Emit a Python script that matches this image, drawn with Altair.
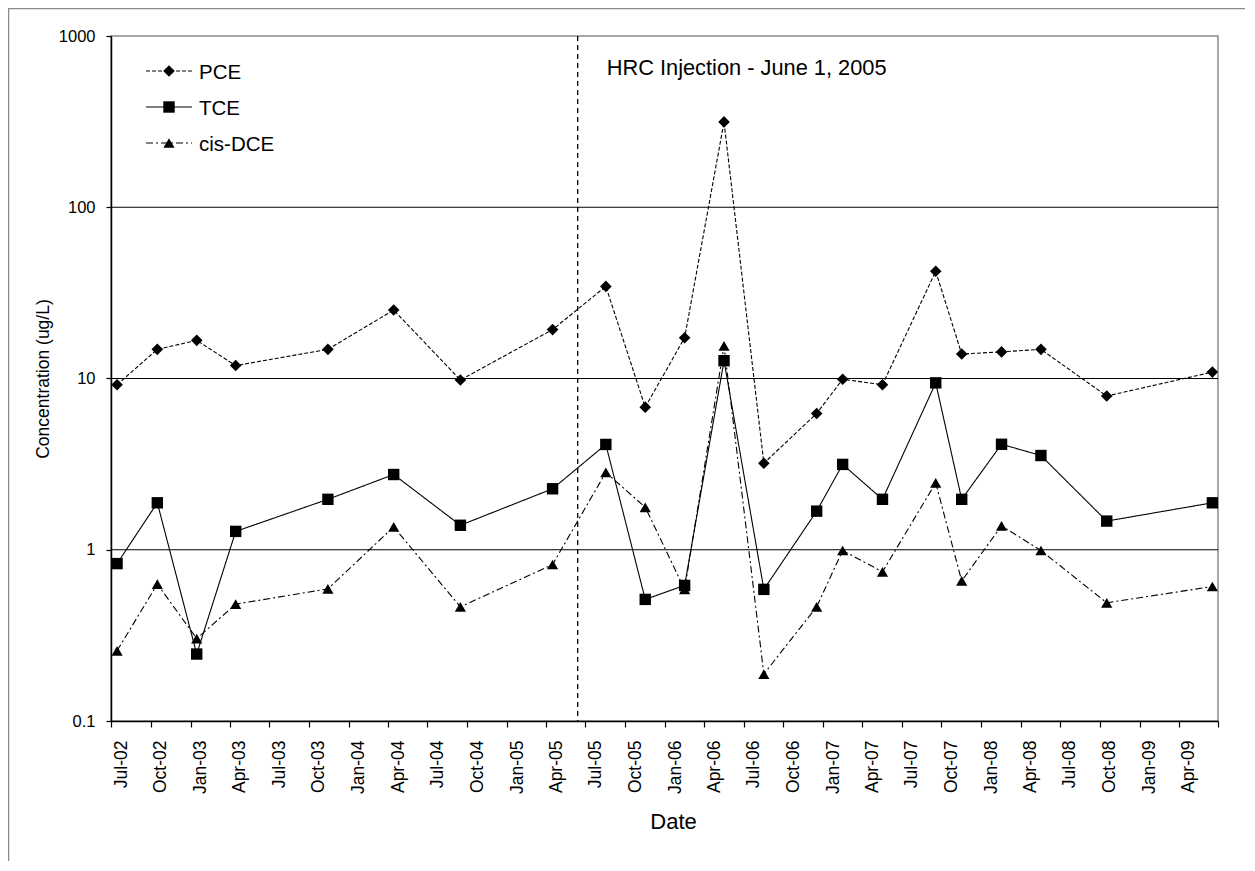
import altair as alt
import pandas as pd

# ---------------- data ----------------
series_names = ["PCE", "TCE", "cis-DCE"]
sample_dates = [
    "2002-07-15", "2002-10-16", "2003-01-15", "2003-04-15", "2003-11-14",
    "2004-04-14", "2004-09-15", "2005-04-16", "2005-08-17", "2005-11-16",
    "2006-02-15", "2006-05-17", "2006-08-17", "2006-12-17", "2007-02-15",
    "2007-05-18", "2007-09-18", "2007-11-17", "2008-02-17", "2008-05-18",
    "2008-10-17", "2009-06-18",
]
pce = [9.2, 14.8, 16.7, 11.9, 14.8, 25.1, 9.8, 19.3, 34.5, 6.8, 17.3,
       315, 3.2, 6.25, 9.9, 9.2, 42.3, 13.9, 14.3, 14.8, 7.9, 10.9]
tce = [0.83, 1.88, 0.246, 1.28, 1.97, 2.75, 1.39, 2.27, 4.12, 0.513, 0.619,
       12.7, 0.587, 1.68, 3.15, 1.97, 9.43, 1.97, 4.13, 3.55, 1.47, 1.88]
cis_dce = [0.257, 0.63, 0.303, 0.481, 0.591, 1.36, 0.464, 0.82, 2.83, 1.77, 0.587,
           15.5, 0.188, 0.464, 0.99, 0.743, 2.46, 0.658, 1.38, 0.99, 0.49, 0.61]

tick_years = [2002, 2002, 2003, 2003, 2003, 2003, 2004, 2004, 2004, 2004,
              2005, 2005, 2005, 2005, 2006, 2006, 2006, 2006, 2007, 2007,
              2007, 2007, 2008, 2008, 2008, 2008, 2009, 2009, 2009]
tick_months = [7, 10, 1, 4, 7, 10, 1, 4, 7, 10,
               1, 4, 7, 10, 1, 4, 7, 10, 1, 4,
               7, 10, 1, 4, 7, 10, 1, 4, 7]
y_ticks = [0.1, 1, 10, 100, 1000]
grid_values = [1, 10, 100]
injection_date = ["2005-06-13"]
injection_label = ["HRC Injection - June 1, 2005"]

rows = []
for name, vals in zip(series_names, [pce, tce, cis_dce]):
    for d, v in zip(sample_dates, vals):
        rows.append({"date": d, "value": v, "series": name})
df = pd.DataFrame(rows)

FONT = "Liberation Sans"

dash_scale = alt.Scale(domain=series_names, range=[[4, 2], [1, 0], [7, 3, 2, 3]])
shape_scale = alt.Scale(domain=series_names, range=["diamond", "square", "triangle-up"])
size_scale = alt.Scale(domain=series_names, range=[135, 125, 165])

x_scale = alt.Scale(
    type="utc",
    domain=[alt.DateTime(year=2002, month=7, date=1, utc=True),
            alt.DateTime(year=2009, month=7, date=1, utc=True)],
)
y_scale = alt.Scale(type="log", domain=[0.1, 1000], nice=False)

x_axis = alt.Axis(
    values=[alt.DateTime(year=y, month=m, date=1, utc=True) for y, m in zip(tick_years, tick_months)],
    labelExpr="datum.value >= utc(2009, 5, 1) ? '' : utcFormat(datum.value, '%b-%y')",
    title="Date", titleFont=FONT, titleFontSize=22, titleFontWeight="normal",
    titleColor="black", titleX=562, titleY=100, titleBaseline="middle",
    labelAngle=-90, labelAlign="right", labelBaseline="middle",
    labelFont=FONT, labelFontSize=17.5, labelColor="black",
    labelPadding=13, labelOffset=10, labelOverlap=False, labelFlush=False,
    labelBound=False,
    tickSize=6, tickColor="black", tickWidth=1.2,
    domainColor="black", domainWidth=1.5, grid=False,
)
y_axis = alt.Axis(
    values=y_ticks, format="~g",
    title="Concentration (ug/L)", titleFont=FONT, titleFontSize=17.5,
    titleFontWeight="normal", titleColor="black",
    titleX=-68, titleY=342.5, titleBaseline="middle", titleAngle=270,
    labelFont=FONT, labelFontSize=16.5, labelColor="black",
    labelPadding=11, labelFlush=False, labelOverlap=False,
    tickSize=5, tickColor="black", tickWidth=1.2,
    domainColor="black", domainWidth=1.5, grid=False,
)

X = alt.X("date:T", scale=x_scale, axis=x_axis)
Y = alt.Y("value:Q", scale=y_scale, axis=y_axis)

grid = alt.Chart(pd.DataFrame({"value": grid_values})).mark_rule(
    color="black", strokeWidth=1
).encode(y=Y)

inj = alt.Chart(pd.DataFrame({"date": injection_date})).mark_rule(
    color="black", strokeWidth=1.3, strokeDash=[5, 4]
).encode(x=X)

lines = alt.Chart(df).mark_line(color="black", strokeWidth=1.1).encode(
    x=X, y=Y,
    strokeDash=alt.StrokeDash("series:N", scale=dash_scale, legend=None),
    detail="series:N",
)

points = alt.Chart(df).mark_point(filled=True, color="black", opacity=1).encode(
    x=X, y=Y,
    shape=alt.Shape("series:N", scale=shape_scale, legend=None),
    size=alt.Size("series:N", scale=size_scale, legend=None),
)

ann = alt.Chart(pd.DataFrame({"date": injection_date, "label": injection_label})).mark_text(
    align="left", baseline="middle", dx=29, fontSize=21.8, font=FONT, color="black"
).encode(x=X, y=alt.value(32), text="label:N")

main = alt.layer(grid, inj, lines, points, ann)

# ---------------- legend ----------------
leg_df = pd.DataFrame({"series": series_names})
leg_y = alt.Y("series:N", scale=alt.Scale(domain=series_names, type="point",
                                          range=[35, 107], padding=0), axis=None)
leg_rule = alt.Chart(leg_df).mark_rule(color="black", strokeWidth=1.1).encode(
    x=alt.value(35), x2=alt.value(81), y=leg_y,
    strokeDash=alt.StrokeDash("series:N", scale=dash_scale, legend=None),
)
leg_pts = alt.Chart(leg_df).mark_point(filled=True, color="black", opacity=1).encode(
    x=alt.value(58), y=leg_y,
    shape=alt.Shape("series:N", scale=shape_scale, legend=None),
    size=alt.Size("series:N", scale=size_scale, legend=None),
)
leg_txt = alt.Chart(leg_df).mark_text(
    align="left", baseline="middle", fontSize=20.5, font=FONT, color="black", dy=2
).encode(x=alt.value(88), y=leg_y, text="series:N")
legend = alt.layer(leg_rule, leg_pts, leg_txt)

# ---------------- outer frame ----------------
frame = alt.Chart(pd.DataFrame({"f": [0]})).mark_rect(
    fillOpacity=0, stroke="#8a8a8a", strokeWidth=1.5
).encode(x=alt.value(-102.5), x2=alt.value(1300), y=alt.value(-27.5), y2=alt.value(900))

chart = alt.layer(main, legend, frame).resolve_scale(y="independent").properties(
    width=1107, height=685,
    padding={"left": 103, "top": 28, "right": 27, "bottom": 140},
    autosize=alt.AutoSizeParams(type="none"),
    background="white",
).configure_view(stroke="#8c8c8c", strokeWidth=1.5)

chart.save("out.html", embed_options={"renderer": "svg", "actions": False})
